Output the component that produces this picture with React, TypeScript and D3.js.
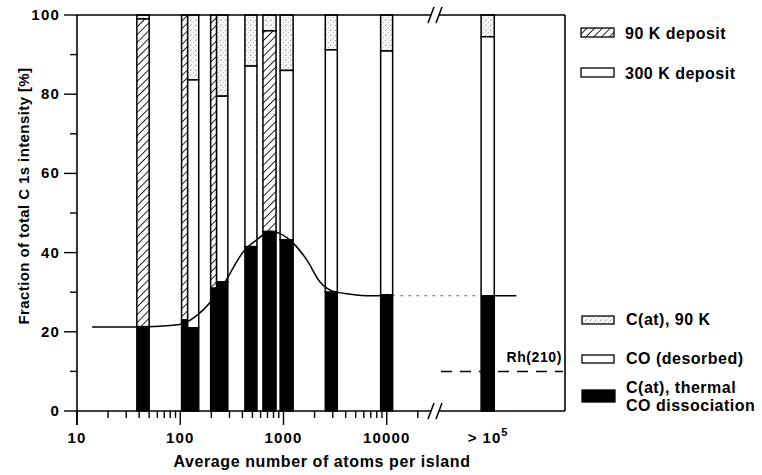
import * as d3 from "d3";
import React from "react";

const W = 762;
const H = 475;

// island-size bins (atoms per island) and the stacked fractions (%) of each bar
const barLo = [38, 103, 118, 197, 225, 423, 632, 927, 2540, 8730, 82000];
const barHi = [50, 118, 151, 225, 289, 553, 847, 1240, 3320, 11400, 110000];
const deposit = ["90K", "90K", "300K", "90K", "300K", "300K", "90K", "300K", "300K", "300K", "300K"];
const thermalC = [21.3, 23, 21, 31, 32.6, 41.5, 45.3, 43.2, 30, 29.3, 29.1];
const desorbedTop = [99, 100, 83.6, 100, 79.5, 87.1, 96, 86, 91.2, 90.9, 94.5];

// guide-to-the-eye curve
const curveN = [14, 27, 50, 79, 102, 154, 242, 423, 550, 741, 927, 1241, 1687, 2271, 3040, 4450, 6970, 11400];
const curveV = [21.2, 21.2, 21.3, 21.6, 21.9, 24.7, 30.5, 40.7, 43.2, 45.4, 44.8, 42.4, 38.1, 32.5, 30.2, 29.5, 29.1, 29.1];
const dottedN = [11400, 82000];
const tailN = [82000, 180000];
const plateau = 29.1;

const rhN = 33500;
const rhV = 10;

const yMajor = [0, 20, 40, 60, 80, 100];
const yMinor = [10, 30, 50, 70, 90];
const xMajor = [10, 100, 1000, 10000];
const xMajorLabels = ["10", "100", "1000", "10000"];

const legendTop = ["90 K deposit", "300 K deposit"];
const legendBottom = [["C(at), 90 K"], ["CO (desorbed)"], ["C(at), thermal", "CO dissociation"]];

const FONT = "'Liberation Sans', Arial, Helvetica, sans-serif";

export default function App() {
  const x = d3.scaleLog().domain([10, 1e5]).range([77, 490]);
  const y = d3.scaleLinear().domain([0, 100]).range([411, 15]);
  const left = 77;
  const right = 565;
  const top = y(100);
  const bottom = y(0);
  const brk = 433;

  const xMinor = x.ticks().filter((t) => t <= 20000 && !xMajor.includes(t));

  const line = d3
    .line<number>()
    .x((_, i) => x(curveN[i]))
    .y((d) => y(d))
    .curve(d3.curveMonotoneX);

  const txt = { fontFamily: FONT, fontWeight: 700 as const, fill: "#000" };

  return (
    <svg width={W} height={H} style={{ position: "absolute", left: 0, top: 0, background: "#fff" }}>
      <defs>
        <pattern id="hatch" width="5.5" height="5.5" patternUnits="userSpaceOnUse" patternTransform="rotate(45)">
          <rect width="5.5" height="5.5" fill="#fff" />
          <line x1="0" y1="0" x2="0" y2="5.5" stroke="#000" strokeWidth="1.7" />
        </pattern>
        <pattern id="stipple" width="5" height="5" patternUnits="userSpaceOnUse">
          <rect width="5" height="5" fill="#f6f6f6" />
          <rect x="0" y="0" width="1" height="1" fill="#999" />
          <rect x="3" y="2" width="1" height="1" fill="#bbb" />
          <rect x="1" y="4" width="1" height="1" fill="#c4c4c4" />
        </pattern>
      </defs>

      {/* bars */}
      {barLo.map((lo, i) => {
        const x0 = x(lo);
        const w = x(barHi[i]) - x0;
        const mid = deposit[i] === "90K" ? "url(#hatch)" : "#fff";
        return (
          <g key={i} stroke="#000" strokeWidth={1.5}>
            <rect x={x0} y={y(100)} width={w} height={y(desorbedTop[i]) - y(100)} fill="url(#stipple)" />
            <rect x={x0} y={y(desorbedTop[i])} width={w} height={y(thermalC[i]) - y(desorbedTop[i])} fill={mid} />
            <rect x={x0} y={y(thermalC[i])} width={w} height={y(0) - y(thermalC[i])} fill="#000" />
          </g>
        );
      })}

      {/* curve */}
      <path d={line(curveV) || ""} fill="none" stroke="#000" strokeWidth={1.5} />
      <line x1={x(dottedN[0])} x2={x(dottedN[1])} y1={y(plateau)} y2={y(plateau)} stroke="#333" strokeWidth={1.2} strokeDasharray="2 6" />
      <line x1={x(tailN[0])} x2={x(tailN[1])} y1={y(plateau)} y2={y(plateau)} stroke="#000" strokeWidth={1.4} />

      {/* Rh(210) reference */}
      <line x1={x(rhN)} x2={right - 2} y1={y(rhV)} y2={y(rhV)} stroke="#000" strokeWidth={1.5} strokeDasharray="11 8" />
      <text x={right - 3} y={y(rhV) - 9} textAnchor="end" fontSize={14} {...txt} letterSpacing={0.6}>
        Rh(210)
      </text>

      {/* frame with axis break */}
      <g stroke="#000" strokeWidth={1.6} fill="none">
        <line x1={left} x2={left} y1={top} y2={bottom + 14} />
        <line x1={right} x2={right} y1={top} y2={bottom} />
        <line x1={left} x2={brk - 2} y1={top} y2={top} />
        <line x1={brk + 6} x2={right} y1={top} y2={top} />
        <line x1={left} x2={brk - 2} y1={bottom} y2={bottom} />
        <line x1={brk + 6} x2={right} y1={bottom} y2={bottom} />
        {[brk - 2, brk + 6].map((bx) => (
          <g key={bx}>
            <line x1={bx - 3} x2={bx + 3} y1={top + 8} y2={top - 8} />
            <line x1={bx - 3} x2={bx + 3} y1={bottom + 8} y2={bottom - 8} />
          </g>
        ))}
      </g>

      {/* ticks */}
      <g stroke="#000" strokeWidth={1.4}>
        {yMajor.map((v) => (
          <line key={"M" + v} x1={left - 13} x2={left} y1={y(v)} y2={y(v)} />
        ))}
        {yMinor.map((v) => (
          <line key={"m" + v} x1={left - 7} x2={left} y1={y(v)} y2={y(v)} />
        ))}
        {xMajor.map((v) => (
          <line key={"X" + v} x1={x(v)} x2={x(v)} y1={bottom} y2={bottom + 14} />
        ))}
        {xMinor.map((v) => (
          <line key={"x" + v} x1={x(v)} x2={x(v)} y1={bottom} y2={bottom + 7} />
        ))}
      </g>
      {yMajor.map((v) => (
        <text key={v} x={left - 17} y={y(v) + 5} textAnchor="end" fontSize={15} letterSpacing={1.2} {...txt}>
          {v}
        </text>
      ))}
      {xMajor.map((v, i) => (
        <text key={v} x={x(v)} y={443} textAnchor="middle" fontSize={15} letterSpacing={1.2} {...txt}>
          {xMajorLabels[i]}
        </text>
      ))}
      <text x={x(1e5) - 2} y={443} textAnchor="middle" fontSize={15} letterSpacing={1} {...txt}>
        {"> 10"}
        <tspan fontSize={11} dy={-7}>5</tspan>
      </text>

      {/* axis titles */}
      <text x={322} y={467} textAnchor="middle" fontSize={16} letterSpacing={0.6} {...txt}>
        Average number of atoms per island
      </text>
      <text transform="translate(29,196) rotate(-90)" textAnchor="middle" fontSize={15} letterSpacing={0.4} {...txt}>
        Fraction of total C 1s intensity [%]
      </text>

      {/* legend */}
      <g stroke="#000" strokeWidth={1.3}>
        <rect x={581} y={28} width={33} height={9} fill="url(#hatch)" />
        <rect x={581} y={68} width={33} height={9} fill="#fff" />
        <rect x={582} y={316} width={32} height={8} fill="url(#stipple)" />
        <rect x={582} y={355} width={32} height={8} fill="#fff" />
        <rect x={582} y={390} width={33} height={12} fill="#000" />
      </g>
      {legendTop.map((s, i) => (
        <text key={s} x={625} y={39 + i * 40} fontSize={16} letterSpacing={0.5} {...txt}>
          {s}
        </text>
      ))}
      {legendBottom.map((lines, i) =>
        lines.map((s, j) => (
          <text key={s} x={626} y={[325, 364, 393][i] + j * 18} fontSize={16} letterSpacing={0.5} {...txt}>
            {s}
          </text>
        ))
      )}
    </svg>
  );
}
